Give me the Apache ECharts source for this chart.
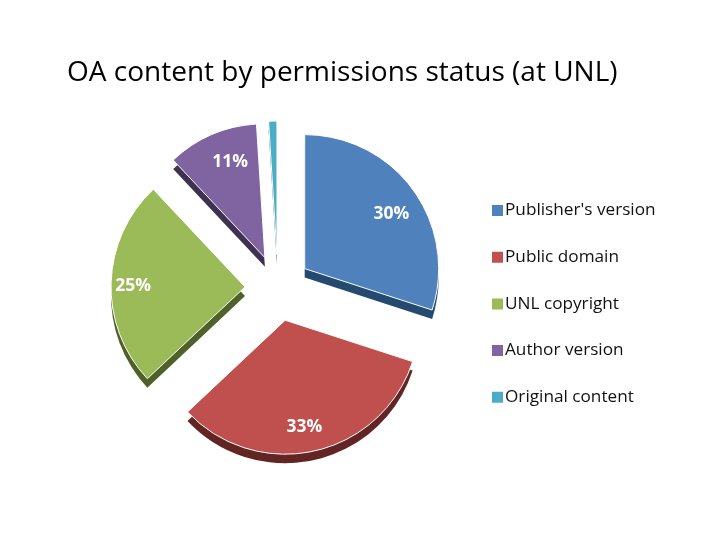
<!DOCTYPE html>
<html><head><meta charset="utf-8">
<style>html,body{margin:0;padding:0;background:#fff}#c{width:720px;height:540px}</style>
<script src="https://cdn.jsdelivr.net/npm/echarts@6/dist/echarts.min.js"></script>
</head><body><div id="c"></div>
<script>
const titleText = 'OA content by permissions status (at UNL)';
const categories = ["Publisher's version", 'Public domain', 'UNL copyright', 'Author version', 'Original content'];
const values = [30, 33, 25, 11, 1];
const topColors = ['#4F81BD', '#C0504D', '#9BBB59', '#8064A2', '#4BACC6'];
const sideColors = ['#254A70', '#632523', '#4F6128', '#3F3151', '#205867'];
const labelNudge = [[30, -13], [4, 38], [-42, 1], [-7, -31], [0, 0]];
const labelShown = [true, true, true, true, false];

const chart = echarts.init(document.getElementById('c'), null, {renderer: 'canvas'});
const makeData = (colors, withLabel) => categories.map((name, i) => ({
  name, value: values[i], selected: true,
  itemStyle: {color: colors[i]},
  label: {show: withLabel && labelShown[i]}
}));
const pieBase = {
  type: 'pie', radius: [0, 134], startAngle: 90, clockwise: true,
  selectedMode: 'multiple', selectedOffset: 33, silent: false,
  animation: false, labelLine: {show: false}, emphasis: {disabled: true},
  select: {disabled: false}
};
chart.setOption({
  animation: false,
  backgroundColor: '#fff',
  title: {text: titleText, left: 62, top: 54, textStyle: {fontFamily: 'Open Sans', fontSize: 28, fontWeight: 'normal', color: '#000'}},
  legend: {
    orient: 'vertical', left: 485, top: 197, itemWidth: 13, itemHeight: 13, itemGap: 29.7,
    selectedMode: false, icon: 'rect', data: categories,
    textStyle: {fontFamily: 'Open Sans', fontSize: 17.2, color: '#111', padding: [0, 0, 0, -4], lineHeight: 17}
  },
  series: [
    Object.assign({}, pieBase, {
      name: 'top', center: [278, 288], z: 3,
      itemStyle: {borderColor: '#fff', borderWidth: 1},
      label: {position: 'inside', color: '#fff', fontFamily: 'Open Sans', fontWeight: 'bold', fontSize: 17.5, formatter: p => Math.round(p.value) + '%'},
      labelLayout: p => ({dx: labelNudge[p.dataIndex][0], dy: labelNudge[p.dataIndex][1]}),
      data: makeData(topColors, true)
    }),
    Object.assign({}, pieBase, {
      name: 'side', center: [278, 297], z: 2,
      label: {show: false},
      data: makeData(sideColors, false)
    })
  ]
});
</script></body></html>
